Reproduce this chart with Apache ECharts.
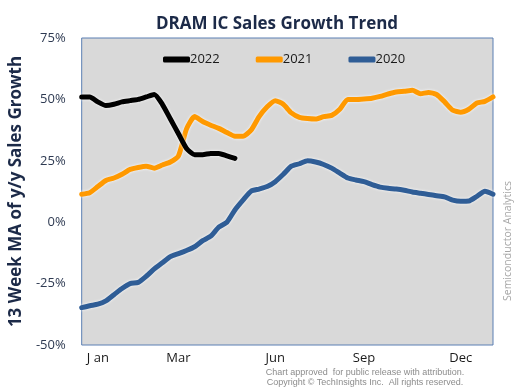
<!DOCTYPE html>
<html>
<head>
<meta charset="utf-8">
<script src="https://cdn.jsdelivr.net/npm/echarts@6/dist/echarts.min.js"></script>
<style>html,body{margin:0;padding:0;background:#fff;}#c{width:520px;height:390px;}</style>
</head>
<body>
<div id="c"></div>
<script>
// Week numbers (categories)
var weeks = Array.from({length: 52}, function (_, i) { return 'W' + (i + 1); });

// Tick labels and the week each sits on
var tickLabels = ['J an', 'Mar', 'Jun', 'Sep', 'Dec'];
var tickWeeks = [3, 13, 25, 36, 48];

var seriesNames = ['2022', '2021', '2020'];

// 13-week moving average of y/y growth (%)
var s2022 = [51, 51, 49, 47.5, 48, 49, 49.5, 50, 51, 52, 48, 42, 36, 30, 27.5, 27.5, 28, 28, 27, 26];

var s2021 = [11.4, 12, 14.5, 17, 18, 19.5, 21.5, 22.3, 22.8, 22, 23.3, 24.5, 27, 38, 43, 41, 39.5, 38.2, 36.5, 35,
             35, 37.5, 43, 47, 49.5, 48, 44.5, 42.7, 42.2, 42, 43, 43.5, 46, 50, 50, 50.2, 50.5, 51.2, 52.2, 53,
             53.3, 53.7, 52.3, 52.8, 52, 49, 45.6, 44.8, 46, 48.5, 49.2, 51];

var s2020 = [-34.8, -34, -33.4, -32, -29.5, -27, -25, -24.5, -22, -19, -16.5, -14, -12.8, -11.5, -10, -7.5, -5.7, -2, 0, 5,
             9, 12.6, 13.5, 14.5, 16.5, 19.5, 22.8, 23.8, 25, 24.5, 23.5, 22, 20, 18, 17.2, 16.5, 15.3, 14.3, 13.8, 13.5,
             13, 12.3, 11.8, 11.3, 10.8, 10.3, 9, 8.5, 8.6, 10.5, 12.6, 11.4];

var colors = ['#000000', '#ff9900', '#2f5d96'];

var chart = echarts.init(document.getElementById('c'));

function mkSeries(name, data, color, z) {
  return {
    name: name, type: 'line', data: data, showSymbol: false, symbol: 'none', z: z,
    smooth: 0.2,
    lineStyle: { color: color, width: 5, cap: 'round', join: 'round', shadowColor: 'rgba(255,255,255,0.95)', shadowBlur: 3 },
    itemStyle: { color: color }
  };
}

var tickIdx = tickWeeks.map(function (w) { return w - 1; });

chart.setOption({
  animation: false,
  backgroundColor: '#ffffff',
  title: {
    text: 'DRAM IC Sales Growth Trend',
    left: 272, top: 11, textAlign: 'center',
    textStyle: { fontFamily: 'Open Sans', fontWeight: 'bold', fontSize: 17, color: '#1c2a48' }
  },
  legend: {
    data: seriesNames,
    left: 158, top: 48,
    icon: 'roundRect', itemWidth: 27, itemHeight: 6, itemGap: 36,
    textStyle: { fontFamily: 'Open Sans', fontSize: 13, color: '#1a1a1a', padding: [0, 0, 0, -5] }
  },
  grid: {
    left: 76, right: 27, top: 38, bottom: 45,
    show: true, backgroundColor: '#d9d9d9', borderColor: '#5a7fb3', borderWidth: 1
  },
  xAxis: {
    type: 'category', data: weeks, boundaryGap: false,
    axisLine: { show: false }, axisTick: { show: false },
    splitLine: { show: false },
    axisLabel: {
      interval: function (i) { return tickIdx.indexOf(i) >= 0; },
      formatter: function (v, i) { var k = tickIdx.indexOf(i); return k >= 0 ? tickLabels[k] : ''; },
      fontFamily: 'Open Sans', fontSize: 13, color: '#1a1a1a', margin: 7
    }
  },
  yAxis: {
    type: 'value', min: -50, max: 75, interval: 25,
    name: '13 Week MA of y/y Sales Growth', nameLocation: 'middle', nameGap: 56,
    nameTextStyle: { fontFamily: 'Open Sans', fontWeight: 'bold', fontSize: 17, color: '#1c2a48' },
    axisLine: { show: false }, axisTick: { show: false }, splitLine: { show: false },
    axisLabel: { formatter: '{value}%', fontFamily: 'Open Sans', fontSize: 13, color: '#2e3a52', margin: 16 }
  },
  series: [
    mkSeries(seriesNames[2], s2020, colors[2], 2),
    mkSeries(seriesNames[1], s2021, colors[1], 3),
    mkSeries(seriesNames[0], s2022, colors[0], 4)
  ],
  color: colors,
  graphic: [
    {
      type: 'text', x: 508, y: 241, rotation: Math.PI / 2,
      style: { text: 'Semiconductor Analytics', fill: '#a6a6a6', font: '10.5px "Open Sans"', align: 'center', verticalAlign: 'middle' }
    },
    {
      type: 'text', x: 365, y: 373,
      style: { text: 'Chart approved  for public release with attribution.', fill: '#8c8c8c', font: '9px "Liberation Sans"', align: 'center', verticalAlign: 'middle' }
    },
    {
      type: 'text', x: 365, y: 383,
      style: { text: 'Copyright \u00a9 TechInsights Inc.  All rights reserved.', fill: '#8c8c8c', font: '9px "Liberation Sans"', align: 'center', verticalAlign: 'middle' }
    }
  ]
});
</script>
</body>
</html>
